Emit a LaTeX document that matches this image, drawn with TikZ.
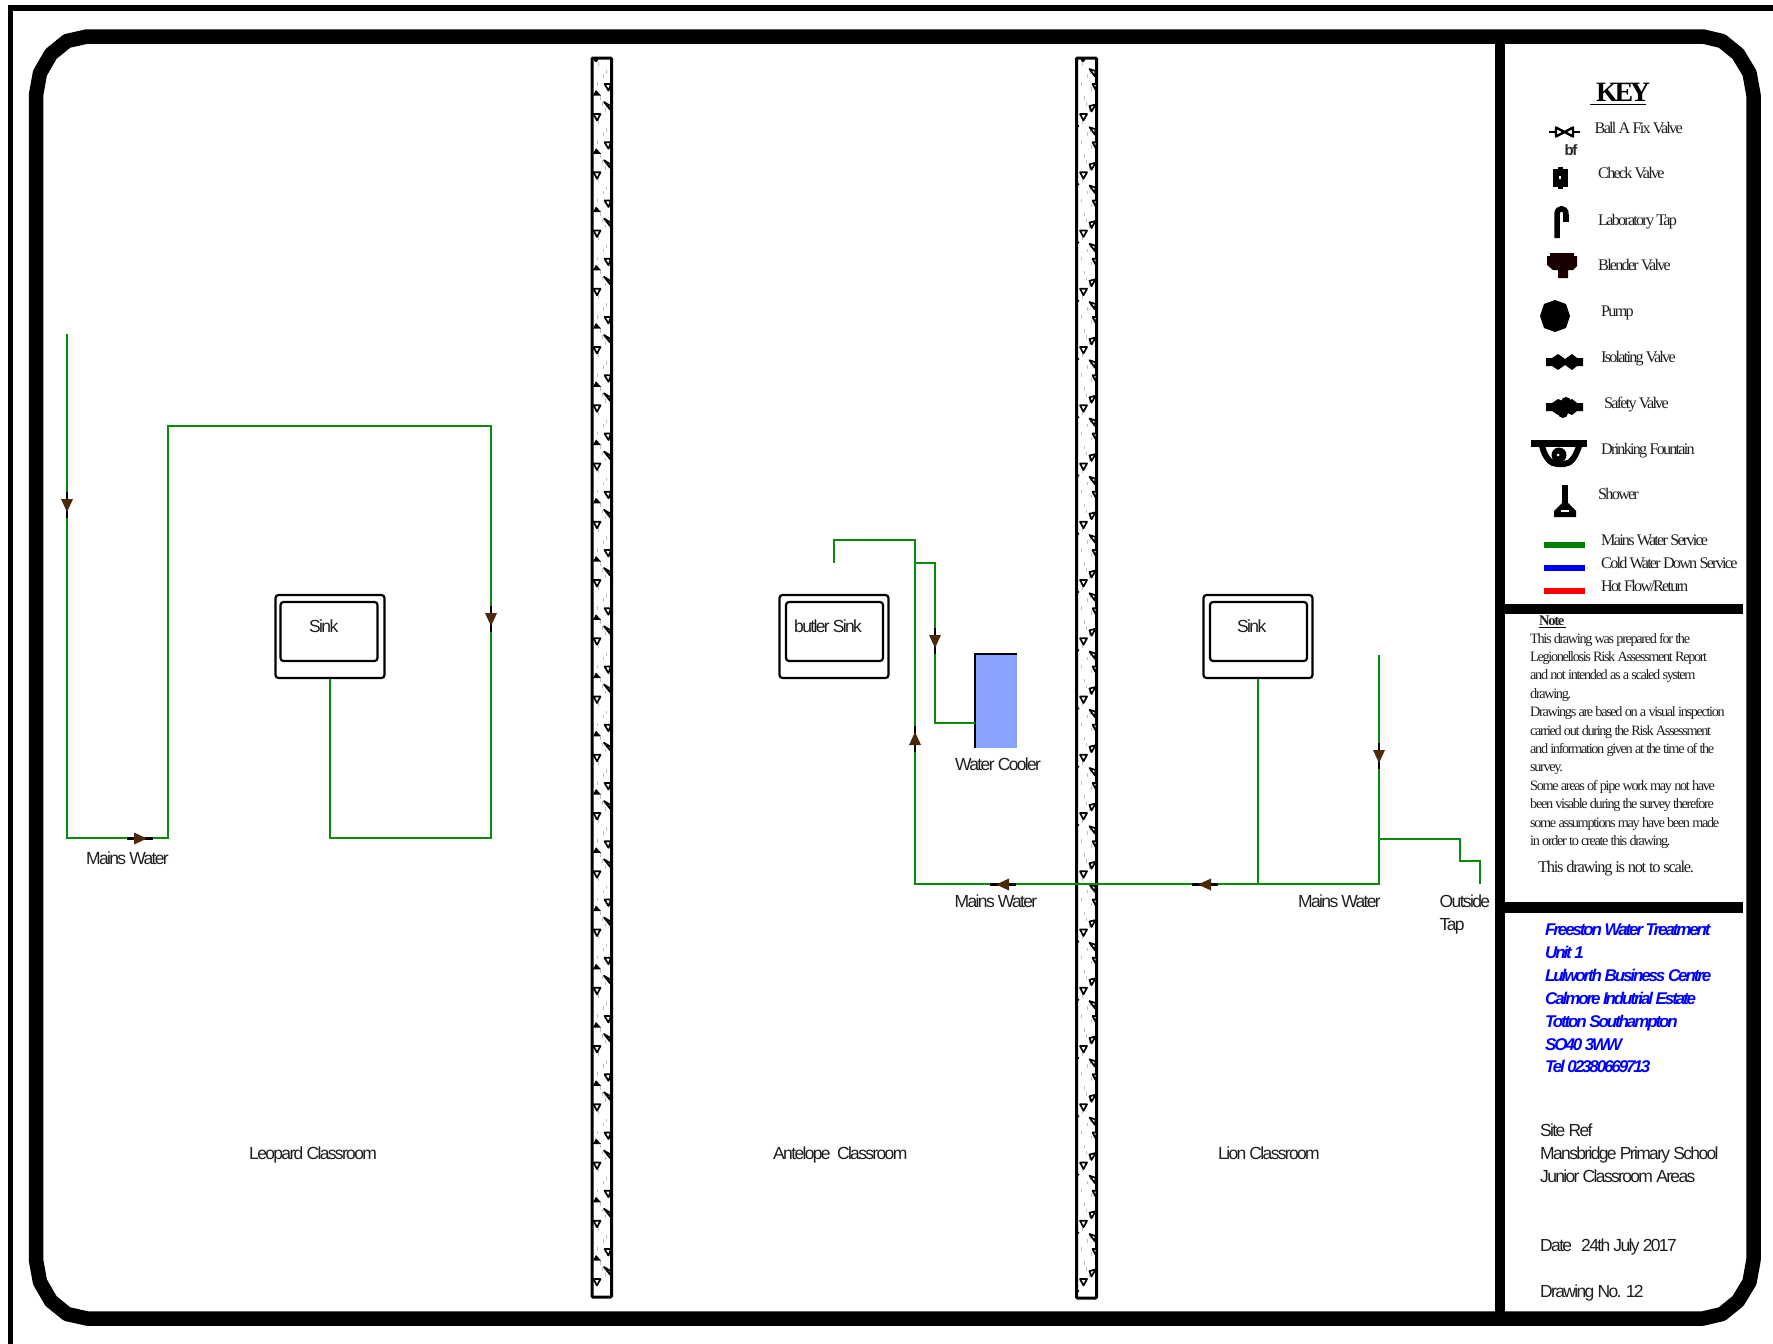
\documentclass[tikz,border=0pt]{standalone}
\usepackage{fontspec}
\setmainfont{Liberation Sans}
\newfontfamily\serifkey[LetterSpace=-11]{Liberation Serif}
\newfontfamily\serifnote[LetterSpace=-9.5]{Liberation Serif}
\newfontfamily\serifscale[LetterSpace=-8]{Liberation Serif}
\newfontfamily\serifhead[LetterSpace=-12]{Liberation Serif}
\newfontfamily\sanstight[LetterSpace=-9.5]{Liberation Sans}
\newfontfamily\bluefont[LetterSpace=-12.5]{Liberation Sans}
\definecolor{pipegreen}{HTML}{0A8A0A}
\definecolor{coolerblue}{HTML}{88A4FF}
\definecolor{arrowbrown}{HTML}{4A2A0A}
\tikzset{
  x=1pt,y=-1pt,
  pipe/.style={draw=pipegreen,line width=2.4pt,line join=miter},
  sinkouter/.style={draw=black,line width=2.2pt,rounded corners=3pt,minimum width=109pt,minimum height=83pt,inner sep=0pt},
  sinkinner/.style={draw=black,line width=2.2pt,rounded corners=3pt,minimum width=97pt,minimum height=59pt,inner sep=0pt},
  lab/.style={anchor=base west,inner sep=0pt,font=\sanstight\fontsize{17.5}{17.5}\selectfont,text=black!88},
  keylab/.style={anchor=base west,inner sep=0pt,font=\serifkey\fontsize{16.2}{16.2}\selectfont,text=black!88},
  notelab/.style={anchor=base west,inner sep=0pt,font=\serifnote\fontsize{14.3}{14.3}\selectfont,text=black!88},
  bluelab/.style={anchor=base west,inner sep=0pt,font=\bluefont\bfseries\itshape\fontsize{17}{17}\selectfont,text=blue},
  wallbox/.style={draw=black,line width=3pt,rounded corners=1pt},
  walltri/.style={draw=black,fill=white,line width=1.7pt,line join=round},
  flow/.pic={
    \draw[black,line width=2.2pt] (-13,0) -- (13,0);
    \fill[arrowbrown] (-6,-6) -- (7,0) -- (-6,6) -- cycle;
  }
}
\begin{document}
\begin{tikzpicture}
\useasboundingbox (0,0) rectangle (1773,1344);
\fill[white] (0,0) rectangle (1773,1344);

% outer sheet line and faceted frame
\draw[line width=5.5pt,line cap=butt,line join=miter] (10.5,1344) -- (10.5,8) -- (1773,8);
\draw[line width=14.5pt,line join=round]
  (87,36.5) -- (1703,36.5) -- (1722,41) -- (1738,54) -- (1749.5,73) -- (1753.5,95)
  -- (1753.5,1260) -- (1749.5,1282) -- (1738,1301) -- (1722,1314) -- (1703,1318.5)
  -- (87,1318.5) -- (67,1314) -- (51,1301) -- (40,1282) -- (36,1260)
  -- (36,95) -- (40,73) -- (51,54) -- (67,41) -- cycle;

% panel dividers
\fill (1495,40) rectangle (1505,1315);
\fill (1505,604) rectangle (1743,614);
\fill (1505,902) rectangle (1743,913);

% wall texture
\foreach \wx in {592,1076}{
  \foreach \gx/\gy in {6/0,11/12,15/25,8/34,13/46,5/20,10/40,14/8}{
    \foreach \k in {0,...,20}{
      \fill[black!25] ({\wx+\gx},{62+\gy+58.25*\k}) rectangle ({\wx+\gx+1},{62+\gy+58.25*\k+3.5});
    }
  }
}
\draw[wallbox] (592,58) rectangle (611.5,1297);
\draw[wallbox] (1076.5,58) rectangle (1096.5,1298);
\fill (596,60) circle[radius=2];
\fill (1083,60) circle[radius=2];
\foreach \k in {0,...,20}{
  \pgfmathsetmacro{\ya}{87+58.25*\k}
  \pgfmathsetmacro{\yb}{105+58.25*\k}
  \pgfmathsetmacro{\yc}{117+58.25*\k}
  \pgfmathsetmacro{\yd}{93+58.25*\k}
  \draw[walltri] (604.5,\ya-3) -- (611,\ya-3) -- (608.5,\ya+3.5) -- cycle;
  \draw[walltri] (604,\yb-3) -- (610.5,\yb+1) -- (610,\yb+4.5) -- cycle;
  \draw[walltri] (593.5,\yc-3) -- (600.5,\yc-3) -- (597,\yc+3.5) -- cycle;
  \fill (593,\yd+2.5) -- (596,\yd-3) -- (601,\yd+2.5) -- cycle;
}
\foreach \k in {0,...,20}{
  \pgfmathsetmacro{\ya}{72+58.25*\k}
  \pgfmathsetmacro{\yb}{87+58.25*\k}
  \pgfmathsetmacro{\yc}{108+58.25*\k}
  \pgfmathsetmacro{\yd}{117+58.25*\k}
  \pgfmathsetmacro{\ye}{126+58.25*\k}
  \draw[walltri] (1089.5,\ya-3) -- (1095.5,\ya-1) -- (1095,\ya+4.5) -- cycle;
  \draw[walltri] (1092.5,\yb-3) -- (1096.5,\yb-3) -- (1096,\yb+3.5) -- cycle;
  \draw[walltri] (1089.5,\yc-2) -- (1095.5,\yc-3.5) -- (1091.5,\yc+3.5) -- cycle;
  \draw[walltri] (1080,\yd-3) -- (1087,\yd-3) -- (1083.5,\yd+3.5) -- cycle;
  \fill (1076.5,\ye-2.5) -- (1079.5,\ye) -- (1076.5,\ye+2.5) -- cycle;
}

% sinks
\node[sinkouter] (sinkA) at (330,636.5) {};
\node[sinkinner] (sinkAin) at (329,631.5) {};
\node[sinkouter] (sinkB) at (834,636.5) {};
\node[sinkinner] (sinkBin) at (834.5,631.5) {};
\node[sinkouter] (sinkC) at (1258,636.5) {};
\node[sinkinner] (sinkCin) at (1258.5,631.5) {};

% cooler
\node[fill=coolerblue,inner sep=0pt,minimum width=42pt,minimum height=94pt] (cooler) at (996,701) {};
\draw[line width=2.2pt] (cooler.south west) -- (cooler.north west) -- (cooler.north east);

% junction coordinates
\coordinate (a1) at (67,334);
\coordinate (a2) at (67,838);
\coordinate (a3) at (168,838);
\coordinate (a4) at (168,426);
\coordinate (a5) at (491,426);
\coordinate (a6) at (491,838);
\coordinate (a7) at (sinkA.south |- a6);
\coordinate (b1) at (834,563);
\coordinate (b2) at (834,540);
\coordinate (b3) at (915,540);
\coordinate (b4) at (915,884);
\coordinate (c1) at (915,563);
\coordinate (c2) at (935,563);
\coordinate (c3) at (935,723);
\coordinate (c4) at (cooler.west |- c3);
\coordinate (d1) at (1379,655);
\coordinate (d2) at (1379,884);
\coordinate (d3) at (sinkC.south |- d2);
\coordinate (e1) at (1379,839);
\coordinate (e2) at (1460,839);
\coordinate (e3) at (1460,861);
\coordinate (e4) at (1480,861);
\coordinate (e5) at (1480,884);

% pipes
\draw[pipe] (a1) -- (a2) -- (a3) -- (a4) -- (a5) -- (a6) -- (a7) -- (sinkA.south);
\draw[pipe] (b1) -- (b2) -- (b3) -- (b4) -- (d2) -- (d1);
\draw[pipe] (c1) -- (c2) -- (c3) -- (c4);
\draw[pipe] (sinkC.south) -- (d3);
\draw[pipe] (e1) -- (e2) -- (e3) -- (e4) -- (e5);

% flow arrows
\pic[rotate=-90] at (67,505) {flow};
\pic[rotate=-90] at (491,619) {flow};
\pic at (140,838.5) {flow};
\pic[rotate=-90] at (935,641) {flow};
\pic[rotate=90] at (915,739) {flow};
\pic[rotate=180] at (1003,884.5) {flow};
\pic[rotate=180] at (1205,884.5) {flow};
\pic[rotate=-90] at (1379,756) {flow};

% main labels
\node[lab] (t1) at (86,864) {Mains Water};
\node[lab] (t2) at (309,632) {Sink};
\node[lab] (t3) at (794,632) {butler Sink};
\node[lab] (t4) at (1237,632) {Sink};
\node[lab] (t5) at (955,770) {Water Cooler};
\node[lab] (t6) at (954.5,907) {Mains Water};
\node[lab] (t7) at (1298,907) {Mains Water};
\node[lab] (t8) at (1439.5,907) {Outside};
\node[lab] (t9) at (1439.5,930) {Tap};
\node[lab] (t10) at (249,1159) {Leopard Classroom};
\node[lab] (t11) at (773,1159) {Antelope\ \ Classroom};
\node[lab] (t12) at (1218,1159) {Lion Classroom};

% key
\node[anchor=base west,inner sep=0pt,font=\serifhead\bfseries\fontsize{28}{28}\selectfont] (keyt) at (1596,101) {KEY};
\draw[line width=1.6pt] (1590,104.5) -- (1646,104.5);
\node[keylab] (k1) at (1594.5,133) {Ball A Fix Valve};
\node[keylab] (k2) at (1598,178) {Check Valve};
\node[keylab] (k3) at (1598,225) {Laboratory Tap};
\node[keylab] (k4) at (1598,270) {Blender Valve};
\node[keylab] (k5) at (1601,316) {Pump};
\node[keylab] (k6) at (1601,362) {Isolating Valve};
\node[keylab] (k7) at (1604,408) {Safety Valve};
\node[keylab] (k8) at (1601,454) {Drinking Fountain};
\node[keylab] (k9) at (1598,499) {Shower};
\node[keylab] (k10) at (1601,545) {Mains Water Service};
\node[keylab] (k11) at (1601,568) {Cold Water Down Service};
\node[keylab] (k12) at (1601,591) {Hot Flow/Return};
\node[anchor=base west,inner sep=0pt,font=\sanstight\bfseries\fontsize{15}{15}\selectfont,text=black!85] (bf) at (1564.5,155) {bf};

% key symbols
\draw[line width=2.4pt] (1549,132) -- (1555,132) (1574,132) -- (1580,132);
\draw[line width=2.4pt,fill=white,line join=round] (1556,127.5) -- (1573,136.5) -- (1573,127.5) -- (1556,136.5) -- cycle;
\fill (1553,169) rectangle (1568,187);
\fill (1558,167) -- (1563,167) -- (1563,189) -- (1558,189) -- cycle;
\fill[white] (1559,176) rectangle (1561,179);
\draw[line width=5.5pt] (1557,238) -- (1557,214) .. controls (1557,207) and (1566,207) .. (1566,214);
\fill (1563,214) rectangle (1569,222);
\fill[black!90!red] (1550,253) -- (1574,253) -- (1574,256) -- (1577,256) -- (1577,266) -- (1573,270) -- (1568,270) -- (1568,278) -- (1558,278) -- (1558,270) -- (1553,270) -- (1547,265) -- (1547,256) -- (1550,256) -- cycle;
\fill (1555,300) -- (1566,304) -- (1570,316) -- (1566,328) -- (1555,332) -- (1544,328) -- (1540,316) -- (1544,304) -- cycle;
\fill (1546,358) -- (1552,358) -- (1558,354) -- (1565,359) -- (1572,354) -- (1577,358) -- (1583,358) -- (1583,366) -- (1577,366) -- (1572,370) -- (1565,365) -- (1558,370) -- (1552,366) -- (1546,366) -- cycle;
\fill (1546,403) -- (1552,403) -- (1558,399) -- (1565,402) -- (1572,399) -- (1577,403) -- (1583,403) -- (1583,411) -- (1577,411) -- (1572,415) -- (1565,412) -- (1558,415) -- (1552,411) -- (1546,411) -- cycle;
\fill (1566,402) circle[radius=5];
\fill (1563,413) circle[radius=5];
\fill (1531,440) rectangle (1587,447);
\draw[line width=6pt] (1542,446) .. controls (1545,458) and (1551,464) .. (1557,464) -- (1564,464) .. controls (1571,464) and (1576,456) .. (1579,446);
\fill (1559,455) circle[radius=7.5];
\fill[white] (1558,455) circle[radius=1.5];
\fill (1562,485) rectangle (1568,505);
\fill (1562,503) -- (1568,503) -- (1576,511) -- (1576,517) -- (1554,517) -- (1554,511) -- cycle;
\fill[white] (1561,510) rectangle (1569,511.5);
\fill[green!50!black] (1544,542) rectangle (1585,548);
\fill[blue] (1544,565) rectangle (1585,571);
\fill[red] (1544,588) rectangle (1585,594);

% note
\node[anchor=base west,inner sep=0pt,font=\serifnote\bfseries\fontsize{14.6}{14.6}\selectfont,text=black!88] (n0) at (1539,625) {Note};
\draw[line width=1pt] (1539,627) -- (1566,627);
\node[notelab] (n1) at (1530,643) {This drawing was prepared for the};
\node[notelab] (n2) at (1530,661.4) {Legionellosis Risk Assessment Report};
\node[notelab] (n3) at (1530,679.8) {and not intended as a scaled system};
\node[notelab] (n4) at (1530,698.2) {drawing.};
\node[notelab] (n5) at (1530,716.6) {Drawings are based on a visual inspection};
\node[notelab] (n6) at (1530,735) {carried out during the Risk Assessment};
\node[notelab] (n7) at (1530,753.4) {and information given at the time of the};
\node[notelab] (n8) at (1530,771.8) {survey.};
\node[notelab] (n9) at (1530,790.2) {Some areas of pipe work may not have};
\node[notelab] (n10) at (1530,808.6) {been visable during the survey therefore};
\node[notelab] (n11) at (1530,827) {some assumptions may have been made};
\node[notelab] (n12) at (1530,845.4) {in order to create this drawing.};
\node[anchor=base west,inner sep=0pt,font=\serifscale\fontsize{16.5}{16.5}\selectfont,text=black!88] (n13) at (1538,872) {This drawing is not to scale.};

% address
\node[bluelab] (b01) at (1545,935) {Freeston Water Treatment};
\node[bluelab] (b02) at (1545,958) {Unit 1};
\node[bluelab] (b03) at (1545,981) {Lulworth Business Centre};
\node[bluelab] (b04) at (1545,1004) {Calmore Indutrial Estate};
\node[bluelab] (b05) at (1545,1027) {Totton Southampton};
\node[bluelab] (b06) at (1545,1050) {SO40 3WW};
\node[bluelab] (b07) at (1545,1072) {Tel 02380669713};

\node[lab] (s1) at (1540,1136) {Site Ref};
\node[lab] (s2) at (1540,1159) {Mansbridge Primary School};
\node[lab] (s3) at (1540,1182) {Junior Classroom Areas};
\node[lab] (s4) at (1540,1251) {Date};
\node[lab] (s5) at (1581,1251) {24th July 2017};
\node[lab] (s6) at (1540,1297) {Drawing No. 12};
\end{tikzpicture}
\end{document}
